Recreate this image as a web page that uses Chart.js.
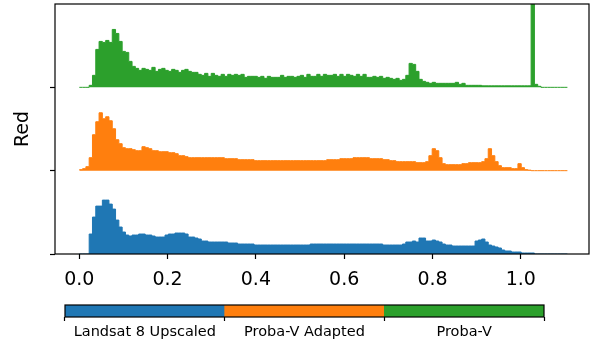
<!DOCTYPE html>
<html>
<head>
<meta charset="utf-8">
<script src="https://cdn.jsdelivr.net/npm/chart.js@4.4.0/dist/chart.umd.min.js"></script>
<style>
  body { margin: 0; background: #fff; }
  #wrap { position: relative; width: 590px; height: 341px; }
  canvas { position: absolute; left: 0; }
</style>
</head>
<body>
<div id="wrap">
  <canvas id="hist" width="590" height="300" style="top:0"></canvas>
  <canvas id="bar" width="590" height="46" style="top:295px"></canvas>
</div>
<script>
// histogram bins start at 0, fixed width
var binWidth = 0.00747;
// one row of the ridge plot = this many count units
var countsPerRow = 83.5;

var seriesNames = ["Landsat 8 Upscaled", "Proba-V Adapted", "Proba-V"];
var seriesColors = ["#1f77b4", "#ff7f0e", "#2ca02c"];
var xTicks = [0, 0.2, 0.4, 0.6, 0.8, 1.0];
var yTicks = [0, 1, 2];

var landsatCounts = [
  0, 0, 0, 20, 37, 48, 48, 54, 54, 50,
  45, 34, 27, 22, 19, 18, 19, 19, 20, 20,
  19, 19, 18, 17, 17, 17, 19, 20, 20, 21,
  21, 21, 20, 17, 17, 16, 15, 13, 13, 12,
  12, 12, 12, 12, 12, 11, 11, 11, 10, 10,
  10, 10, 10, 9, 9, 9, 9, 9, 9, 9,
  9, 9, 9, 9, 9, 9, 9, 9, 9, 9,
  10, 10, 10, 10, 10, 10, 10, 10, 10, 10,
  10, 10, 10, 10, 10, 10, 10, 10, 10, 10,
  10, 10, 9, 9, 9, 9, 9, 9, 10, 12,
  12, 13, 12, 16, 16, 13, 13, 14, 13, 12,
  10, 9, 9, 8, 8, 8, 8, 8, 8, 8,
  13, 14, 15, 12, 9, 8, 7, 6, 4, 3,
  3, 2, 2, 2, 1, 1, 1, 1, 0, 0,
  0, 0, 0, 0, 0, 0, 0, 0
];

var adaptedCounts = [
  1, 2, 4, 13, 36, 49, 58, 52, 54, 50,
  42, 31, 27, 23, 22, 22, 21, 20, 20, 24,
  23, 22, 20, 20, 19, 19, 19, 18, 18, 17,
  15, 15, 14, 13, 13, 13, 13, 13, 13, 13,
  13, 13, 13, 13, 12, 12, 12, 12, 11, 11,
  11, 11, 11, 10, 10, 10, 10, 10, 10, 10,
  10, 10, 10, 10, 10, 10, 10, 10, 10, 10,
  10, 10, 10, 10, 10, 11, 11, 11, 11, 12,
  12, 12, 12, 13, 13, 13, 13, 13, 12, 12,
  12, 12, 11, 11, 10, 10, 9, 9, 9, 9,
  9, 9, 8, 8, 8, 9, 15, 22, 20, 13,
  7, 6, 6, 6, 6, 6, 7, 7, 8, 8,
  8, 8, 9, 12, 22, 15, 9, 5, 3, 3,
  3, 2, 2, 7, 3, 1, 0.5, 0, 0, 0,
  0, 0, 0, 0, 0, 0, 0, 0
];

var probaCounts = [
  0, 0, 0, 2, 12, 38, 46, 45, 47, 45,
  58, 54, 46, 36, 35, 26, 21, 19, 17, 19,
  18, 17, 20, 16, 18, 19, 17, 16, 18, 17,
  15, 17, 18, 16, 15, 15, 13, 12, 14, 11,
  14, 12, 11, 13, 11, 13, 12, 13, 12, 13,
  10, 11, 11, 11, 10, 11, 9, 11, 10, 10,
  10, 12, 10, 11, 11, 10, 11, 12, 10, 13,
  11, 11, 13, 11, 13, 12, 12, 13, 11, 13,
  11, 13, 12, 11, 13, 11, 13, 10, 10, 11,
  10, 11, 9, 10, 9, 8, 9, 7, 8, 12,
  24, 23, 16, 8, 6, 5, 4, 5, 4, 4,
  4, 4, 4, 4, 5, 3, 4, 2, 2, 2,
  2, 2, 1.5, 1.5, 1.5, 1.5, 1.5, 1.5, 1.5, 1.5,
  1.5, 1.5, 1.5, 1.5, 1.5, 1.5, 1.5, 130, 3, 1,
  0, 0, 0, 0, 0, 0, 0, 0
];

var allCounts = [landsatCounts, adaptedCounts, probaCounts];

function ridge(counts, base) {
  var pts = counts.map(function (c, i) {
    return { x: i * binWidth, y: base + c / countsPerRow };
  });
  pts.push({ x: counts.length * binWidth, y: base });
  return pts;
}

var frame = {
  id: "frame",
  afterDatasetsDraw: function (chart) {
    var a = chart.chartArea, ctx = chart.ctx;
    ctx.save();
    ctx.strokeStyle = "#000";
    ctx.lineWidth = 1.2;
    ctx.strokeRect(a.left, a.top, a.right - a.left, a.bottom - a.top);
    ctx.restore();
  }
};

var font = "DejaVu Sans";

var datasets = allCounts.map(function (counts, k) {
  return {
    label: seriesNames[k],
    data: ridge(counts, yTicks[k]),
    stepped: "before",
    borderColor: seriesColors[k],
    backgroundColor: seriesColors[k],
    borderWidth: 1,
    pointRadius: 0,
    fill: { value: yTicks[k] }
  };
});

new Chart(document.getElementById("hist"), {
  type: "line",
  data: { datasets: datasets },
  options: {
    responsive: false,
    animation: false,
    layout: { padding: { top: 4, right: 1, left: 0, bottom: 0 } },
    plugins: { legend: { display: false }, tooltip: { enabled: false } },
    scales: {
      x: {
        type: "linear",
        min: -0.055,
        max: 1.1545,
        afterBuildTicks: function (s) { s.ticks = xTicks.map(function (v) { return { value: v }; }); },
        afterFit: function (s) { s.height = 46; s.paddingLeft = 0; s.paddingRight = 0; },
        grid: { drawOnChartArea: false, tickLength: 5, tickColor: "#000", tickWidth: 1.2 },
        border: { display: false },
        ticks: {
          autoSkip: false, maxRotation: 0, padding: 10, color: "#000",
          font: { family: font, size: 19 },
          callback: function (v) { return v.toFixed(1); }
        }
      },
      y: {
        min: 0,
        max: 3,
        afterBuildTicks: function (s) { s.ticks = yTicks.map(function (v) { return { value: v }; }); },
        afterFit: function (s) { s.width = 55; s.paddingTop = 0; s.paddingBottom = 0; },
        grid: { drawOnChartArea: false, tickLength: 5, tickColor: "#000", tickWidth: 1.2 },
        border: { display: false },
        ticks: { callback: function () { return ""; } },
        title: { display: true, text: "Red", color: "#000", font: { family: font, size: 19 }, padding: { top: 12, bottom: 0 } }
      }
    }
  },
  plugins: [frame]
});

// colour bar used as legend
new Chart(document.getElementById("bar"), {
  type: "bar",
  data: {
    labels: seriesNames,
    datasets: [{
      data: [1, 1, 1],
      backgroundColor: seriesColors,
      borderWidth: 0,
      barPercentage: 1,
      categoryPercentage: 1
    }]
  },
  options: {
    responsive: false,
    animation: false,
    layout: { padding: { top: 10, right: 46, left: 65, bottom: 0 } },
    plugins: { legend: { display: false }, tooltip: { enabled: false } },
    scales: {
      x: {
        afterFit: function (s) { s.height = 24; s.paddingLeft = 0; s.paddingRight = 0; },
        grid: { drawOnChartArea: false, tickLength: 4, tickColor: "#000", tickWidth: 1.2 },
        border: { display: false },
        ticks: { maxRotation: 0, autoSkip: false, padding: 3, color: "#000", font: { family: font, size: 14.5 } }
      },
      y: { display: false, min: 0, max: 1 }
    }
  },
  plugins: [frame]
});
</script>
</body>
</html>
